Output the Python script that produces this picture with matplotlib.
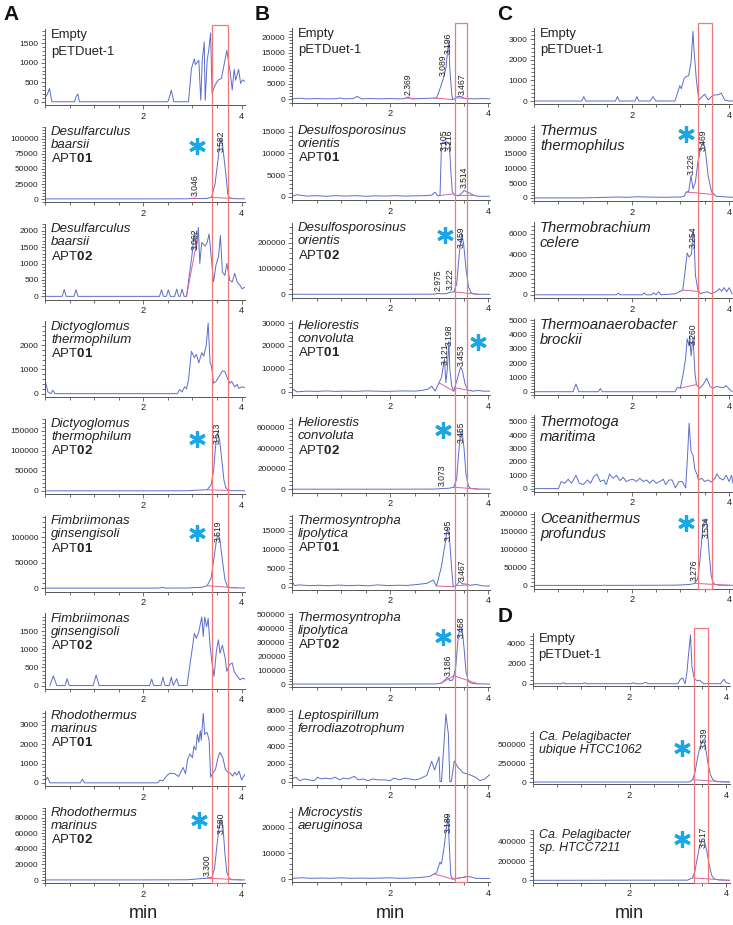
import numpy as np
import matplotlib
matplotlib.use('Agg')
import matplotlib.pyplot as plt
import matplotlib.transforms as mtransforms
from matplotlib.ticker import MultipleLocator, AutoMinorLocator, FixedLocator, FormatStrFormatter
from matplotlib.patches import Rectangle

plt.rcParams['font.family'] = ['Liberation Sans', 'DejaVu Sans']
plt.rcParams['mathtext.fontset'] = 'custom'
plt.rcParams['mathtext.rm'] = 'Liberation Sans'
plt.rcParams['mathtext.it'] = 'Liberation Sans:italic'
plt.rcParams['mathtext.bf'] = 'Liberation Sans:bold'

# ---------------- chromatogram traces (retention time in min, intensity) -------------
# column A
a1_t = [0.0, 0.05, 0.09, 0.14, 0.6, 0.64, 0.67, 0.7, 2.5, 2.54, 2.57, 2.62, 2.92, 2.98, 3.04, 3.06,
        3.13, 3.17, 3.20, 3.24, 3.26, 3.30, 3.33, 3.37, 3.40, 3.45, 3.52, 3.59, 3.70, 3.77, 3.81,
        3.85, 3.88, 3.94, 3.98, 4.02, 4.07]
a1_y = [100, 200, 340, 0, 0, 150, 200, 0, 0, 150, 300, 0, 0, 850, 1100, 950,
        1060, 40, 1060, 1530, 40, 1060, 1300, 1760, 210, 400, 550, 600, 1310, 750, 300,
        830, 550, 830, 470, 560, 520]
a2_t = [0.0, 1.0, 2.0, 2.9, 3.0, 3.046, 3.1, 3.2, 3.3, 3.39, 3.46, 3.51, 3.56, 3.58, 3.61, 3.68,
        3.72, 3.76, 3.85, 4.07]
a2_y = [300, 300, 300, 400, 1000, 1600, 800, 700, 1200, 3000, 25000, 58000, 95000, 100000, 92000,
        42000, 8000, 1500, 600, 400]
a3_t = [0.0, 0.35, 0.39, 0.43, 0.59, 0.63, 0.67, 2.33, 2.37, 2.41, 2.47, 2.51, 2.55, 2.64, 2.68,
        2.72, 2.75, 2.79, 2.83, 2.88, 2.99, 3.04, 3.08, 3.12, 3.15, 3.19, 3.26, 3.30, 3.34, 3.38,
        3.43, 3.48, 3.53, 3.57, 3.61, 3.66, 3.70, 3.76, 3.81, 3.86, 3.91, 3.97, 4.01, 4.07]
a3_y = [0, 0, 210, 0, 0, 200, 0, 0, 200, 0, 0, 200, 0, 0, 220, 0, 0, 220, 0, 0, 1240, 1950, 1430,
        2100, 1000, 1640, 1530, 1640, 1900, 1240, 440, 960, 1200, 1850, 740, 640, 1000, 490, 440,
        700, 440, 330, 230, 280]
a4_t = [0.0, 0.06, 0.12, 0.16, 0.2, 2.69, 2.74, 2.79, 2.84, 2.88, 2.92, 2.98, 3.04, 3.08, 3.13,
        3.19, 3.23, 3.28, 3.32, 3.36, 3.39, 3.43, 3.48, 3.54, 3.61, 3.66, 3.70, 3.76, 3.80, 3.86,
        3.91, 3.95, 4.0, 4.07]
a4_y = [560, 70, 0, 140, 0, 0, 170, 70, 280, 200, 560, 1750, 1480, 1620, 1270, 1690, 1550, 1970,
        2910, 1270, 1130, 430, 500, 700, 940, 910, 700, 430, 500, 280, 380, 210, 280, 250]
a5_t = [0.0, 1.0, 2.0, 2.9, 3.1, 3.2, 3.3, 3.38, 3.43, 3.47, 3.51, 3.55, 3.60, 3.64, 3.68, 3.73,
        3.8, 4.07]
a5_y = [300, 300, 300, 500, 2000, 2500, 3000, 15000, 50000, 110000, 145000, 130000, 75000, 28000,
        8000, 2000, 800, 500]
a6_t = [0.0, 1.0, 2.3, 2.4, 2.45, 2.9, 3.2, 3.3, 3.38, 3.44, 3.49, 3.52, 3.56, 3.61, 3.66, 3.71,
        3.77, 4.07]
a6_y = [300, 300, 300, 1500, 300, 500, 2000, 5000, 20000, 60000, 95000, 105000, 95000, 55000,
        18000, 4000, 1000, 500]
a7_t = [0.1, 0.17, 0.24, 0.41, 0.45, 0.49, 0.98, 1.04, 1.1, 2.13, 2.17, 2.21, 2.36, 2.40, 2.44,
        2.53, 2.57, 2.61, 2.68, 2.72, 2.89, 3.04, 3.08, 3.13, 3.19, 3.22, 3.25, 3.29, 3.32, 3.36,
        3.40, 3.44, 3.49, 3.53, 3.56, 3.61, 3.66, 3.70, 3.75, 3.81, 3.85, 3.89, 3.97, 4.02, 4.07]
a7_y = [0, 266, 0, 0, 190, 0, 0, 290, 0, 0, 180, 0, 0, 230, 0, 0, 230, 0, 190, 0, 0, 1440, 1300,
        1480, 1890, 1350, 1890, 1620, 1850, 1080, 620, 250, 980, 1260, 890, 1110, 800, 390, 570,
        620, 390, 300, 160, 200, 180]
a8_t = [0.0, 0.05, 0.1, 0.72, 0.76, 0.8, 2.3, 2.34, 2.4, 2.47, 2.54, 2.64, 2.72, 2.81, 2.86, 2.9,
        2.95, 3.0, 3.03, 3.07, 3.1, 3.13, 3.16, 3.18, 3.22, 3.25, 3.28, 3.3, 3.34, 3.37, 3.40,
        3.47, 3.52, 3.56, 3.62, 3.67, 3.72, 3.77, 3.82, 3.86, 3.9, 3.95, 4.0, 4.07]
a8_y = [100, 290, 0, 0, 200, 0, 0, 150, 100, 350, 500, 470, 330, 800, 470, 1200, 1500, 1300, 1900,
        1700, 2500, 2100, 2700, 2200, 3600, 2500, 2600, 2600, 2200, 300, 450, 700, 1300, 1580,
        1300, 700, 550, 500, 350, 550, 400, 600, 150, 450]
a9_t = [0.0, 1.0, 2.0, 2.9, 3.0, 3.2, 3.3, 3.4, 3.45, 3.5, 3.55, 3.58, 3.62, 3.66, 3.70, 3.75,
        3.8, 4.07]
a9_y = [300, 300, 300, 500, 1000, 2000, 2500, 4000, 15000, 45000, 72000, 77000, 70000, 35000,
        10000, 2000, 500, 300]

# column B
b1_t = [0.0, 0.15, 0.3, 0.5, 0.7, 0.9, 0.98, 1.06, 1.25, 1.33, 1.42, 1.6, 1.8, 2.0, 2.2, 2.3,
        2.37, 2.44, 2.6, 2.8, 2.95, 3.02, 3.09, 3.14, 3.19, 3.20, 3.22, 3.26, 3.28, 3.33, 3.38,
        3.46, 3.52, 3.7, 3.9, 4.04]
b1_y = [200, 400, 200, 300, 200, 250, 500, 200, 300, 1000, 200, 300, 200, 300, 200, 300, 850,
        200, 300, 400, 500, 3500, 6800, 10000, 18000, 18500, 10000, 1500, 0, 300, 1000, 900, 300,
        200, 300, 200]
b2_t = [0.0, 0.1, 0.3, 0.5, 0.7, 0.9, 1.1, 1.3, 1.5, 1.7, 1.9, 2.1, 2.3, 2.5, 2.7, 2.85, 2.92,
        2.97, 3.02, 3.05, 3.07, 3.105, 3.14, 3.17, 3.21, 3.24, 3.27, 3.32, 3.4, 3.45, 3.51, 3.56,
        3.62, 3.7, 3.8, 4.04]
b2_y = [200, 500, 200, 300, 150, 300, 200, 300, 150, 250, 200, 300, 200, 250, 300, 400, 1100,
        300, 300, 12000, 12500, 12700, 12000, 12400, 12500, 6000, 1200, 400, 300, 700, 1500, 1200,
        900, 400, 150, 150]
b3_t = [0.0, 1.0, 2.0, 2.8, 2.9, 2.975, 3.05, 3.15, 3.222, 3.3, 3.36, 3.41, 3.46, 3.5, 3.55,
        3.6, 3.65, 3.7, 3.8, 4.04]
b3_y = [500, 500, 500, 800, 1000, 4000, 2000, 3000, 8000, 10000, 40000, 150000, 238000, 200000,
        100000, 30000, 8000, 2000, 500, 500]
b4_t = [0.0, 0.03, 0.1, 0.3, 0.5, 0.7, 0.9, 1.1, 1.3, 1.5, 1.7, 1.9, 2.1, 2.3, 2.5, 2.65, 2.78,
        2.85, 2.92, 3.05, 3.11, 3.14, 3.17, 3.20, 3.22, 3.26, 3.30, 3.37, 3.44, 3.48, 3.53, 3.59,
        3.69, 3.79, 3.9, 4.04]
b4_y = [500, 1000, 0, 300, 200, 400, 200, 300, 200, 400, 300, 200, 300, 400, 300, 600, 1200, 2500,
        300, 6200, 14400, 4000, 10000, 22000, 10000, 2500, 300, 5500, 10800, 9000, 3500, 700, 300,
        600, 300, 300]
b5_t = [0.0, 1.0, 2.0, 2.9, 3.0, 3.073, 3.2, 3.3, 3.36, 3.40, 3.44, 3.47, 3.51, 3.55, 3.6, 3.65,
        3.75, 4.04]
b5_y = [1000, 1000, 1000, 2000, 5000, 8000, 10000, 20000, 100000, 350000, 560000, 570000, 400000,
        150000, 30000, 8000, 3000, 1000]
b6_t = [0.0, 0.05, 0.15, 0.35, 0.55, 0.75, 0.95, 1.15, 1.35, 1.55, 1.75, 1.95, 2.15, 2.35, 2.55,
        2.75, 2.88, 2.95, 3.05, 3.12, 3.17, 3.21, 3.26, 3.29, 3.35, 3.42, 3.47, 3.56, 3.62, 3.76,
        3.9, 4.04]
b6_y = [1500, 300, 500, 300, 400, 250, 450, 300, 400, 250, 500, 300, 400, 350, 600, 900, 1800, 200,
        5500, 11200, 15600, 13500, 4500, 0, 300, 1500, 800, 700, 400, 600, 200, 200]
b7_t = [0.0, 1.0, 2.0, 2.95, 3.05, 3.12, 3.17, 3.22, 3.28, 3.34, 3.39, 3.43, 3.47, 3.51, 3.55,
        3.6, 3.66, 3.75, 4.04]
b7_y = [1000, 1000, 1000, 2000, 8000, 30000, 50000, 25000, 30000, 120000, 330000, 410000, 400000,
        260000, 90000, 20000, 6000, 3000, 1000]
b8_t = [0.0, 0.08, 0.16, 0.25, 0.35, 0.45, 0.52, 0.6, 0.68, 0.78, 0.88, 0.97, 1.05, 1.15, 1.27,
        1.35, 1.45, 1.55, 1.65, 1.75, 1.9, 2.0, 2.08, 2.2, 2.3, 2.4, 2.5, 2.6, 2.75, 2.85, 2.91,
        3.0, 3.02, 3.05, 3.14, 3.19, 3.22, 3.25, 3.31, 3.39, 3.49, 3.56, 3.66, 3.76, 3.83, 3.93,
        4.04]
b8_y = [300, 500, 100, 300, 200, 100, 500, 300, 400, 300, 500, 200, 400, 300, 600, 200, 300, 100,
        300, 200, 200, 100, 400, 200, 400, 300, 200, 300, 700, 2300, 1300, 2800, 0, 0, 7600, 5400,
        0, 0, 2300, 1600, 1000, 900, 700, 450, 100, 300, 800]
b9_t = [0.0, 0.2, 0.4, 0.6, 0.8, 1.0, 1.2, 1.4, 1.6, 1.8, 2.0, 2.2, 2.4, 2.6, 2.8, 2.95, 3.02,
        3.05, 3.10, 3.16, 3.18, 3.20, 3.24, 3.28, 3.36, 3.5, 3.58, 3.65, 3.75, 4.04]
b9_y = [300, 500, 300, 400, 300, 500, 300, 400, 300, 400, 500, 300, 400, 600, 1000, 2500, 6600,
        5800, 12000, 21000, 25000, 17000, 1500, 0, 300, 700, 1100, 800, 300, 200]

# column C
c1_t = [0.0, 0.98, 1.02, 1.06, 1.67, 1.71, 1.75, 2.07, 2.11, 2.15, 2.38, 2.44, 2.50, 2.89, 2.99,
        3.02, 3.08, 3.12, 3.17, 3.22, 3.26, 3.28, 3.33, 3.38, 3.44, 3.50, 3.57, 3.63, 3.70, 3.77,
        3.84, 3.91, 4.0, 4.08]
c1_y = [0, 0, 215, 0, 0, 215, 0, 0, 215, 0, 0, 215, 0, 0, 750, 600, 1100, 1200, 1230, 1900, 3400,
        2500, 1000, 50, 200, 330, 50, 200, 300, 300, 380, 50, 0, 0]
c2_t = [0.0, 1.0, 1.5, 1.7, 1.9, 2.1, 2.3, 2.5, 2.7, 2.9, 3.0, 3.08, 3.12, 3.17, 3.22, 3.26, 3.31,
        3.36, 3.42, 3.47, 3.51, 3.57, 3.64, 3.74, 3.88, 4.08]
c2_y = [0, 0, 200, 300, 200, 400, 300, 250, 200, 300, 300, 560, 2000, 2000, 7500, 3000, 5500,
        12000, 17000, 19000, 16500, 7500, 2000, 500, 400, 200]
c3_t = [0.0, 1.69, 1.73, 1.77, 2.22, 2.26, 2.30, 2.41, 2.45, 2.50, 2.56, 2.60, 2.90, 3.05, 3.09,
        3.14, 3.18, 3.23, 3.26, 3.28, 3.31, 3.36, 3.41, 3.46, 3.56, 3.63, 3.73, 3.80, 3.85, 3.90,
        3.95, 4.0, 4.06]
c3_y = [0, 0, 160, 0, 0, 200, 0, 0, 200, 0, 300, 0, 100, 470, 2000, 4100, 3700, 4000, 6250, 5600,
        1900, 470, 100, 200, 300, 100, 300, 600, 350, 700, 300, 700, 100]
c4_t = [0.0, 0.8, 0.86, 0.92, 1.32, 1.36, 1.40, 2.89, 2.94, 3.0, 3.06, 3.11, 3.14, 3.18, 3.19,
        3.22, 3.26, 3.30, 3.33, 3.39, 3.47, 3.54, 3.61, 3.67, 3.74, 3.81, 3.88, 3.94, 4.0, 4.06]
c4_y = [0, 0, 540, 0, 0, 220, 0, 0, 300, 250, 1280, 2370, 3700, 3200, 3900, 2500, 3800, 1300, 500,
        230, 500, 950, 370, 230, 370, 320, 280, 420, 200, 0]
c5_t = [0.0, 0.50, 0.56, 0.63, 0.70, 0.77, 0.86, 0.93, 1.01, 1.10, 1.16, 1.22, 1.29, 1.36, 1.43,
        1.48, 1.55, 1.62, 1.69, 1.76, 1.83, 1.89, 1.96, 2.03, 2.10, 2.17, 2.24, 2.31, 2.37, 2.44,
        2.51, 2.58, 2.65, 2.70, 2.77, 2.83, 2.90, 2.97, 3.04, 3.11, 3.15, 3.18, 3.22, 3.26, 3.30,
        3.34, 3.37, 3.44, 3.50, 3.57, 3.64, 3.71, 3.75, 3.81, 3.88, 3.94, 4.0, 4.05, 4.08]
c5_y = [0, 0, 530, 400, 700, 400, 1000, 400, 300, 650, 400, 870, 1090, 530, 650, 300, 1090, 770,
        1000, 600, 850, 530, 650, 700, 530, 770, 530, 650, 400, 650, 400, 530, 700, 300, 650, 650,
        50, 530, 530, 50, 2600, 4900, 2800, 2500, 1400, 1100, 650, 770, 530, 650, 480, 770, 1100,
        770, 650, 1000, 530, 1000, 400]
c6_t = [0.0, 1.0, 1.4, 1.45, 1.5, 2.0, 2.5, 2.9, 3.0, 3.2, 3.3, 3.36, 3.41, 3.46, 3.51, 3.55, 3.59,
        3.63, 3.67, 3.72, 3.8, 4.08]
c6_y = [300, 300, 300, 1000, 300, 500, 700, 1000, 1500, 3000, 6000, 20000, 80000, 160000, 185000,
        165000, 90000, 30000, 8000, 2500, 1000, 500]

# column D
d1_t = [0.0, 0.59, 0.63, 0.67, 1.03, 1.07, 1.11, 2.04, 2.08, 2.12, 2.27, 2.33, 2.39, 3.0, 3.05,
        3.10, 3.15, 3.19, 3.22, 3.26, 3.29, 3.34, 3.40, 3.45, 3.53, 3.88, 3.95, 4.0, 4.07]
d1_y = [0, 0, 100, 0, 0, 100, 0, 0, 100, 0, 0, 150, 0, 0, 450, 550, 0, 1300, 3000, 4900, 1700, 500,
        300, 350, 0, 0, 450, 100, 0]
d2_t = [0.0, 3.2, 3.25, 3.3, 3.35, 3.4, 3.45, 3.5, 3.54, 3.58, 3.62, 3.67, 3.72, 3.8, 3.9, 4.07]
d2_y = [0, 0, 5000, 30000, 120000, 300000, 450000, 530000, 530000, 420000, 250000, 100000, 30000,
        5000, 1000, 0]
d3_t = [0.0, 3.2, 3.3, 3.35, 3.4, 3.45, 3.5, 3.55, 3.6, 3.65, 3.7, 3.75, 3.85, 4.07]
d3_y = [0, 2000, 25000, 90000, 230000, 360000, 410000, 400000, 300000, 150000, 50000, 15000, 3000, 0]

# ---------------- sample names, construct, axis tops, tick steps, peak labels ----------------
names_a = ["Empty\npETDuet-1", "Desulfarculus\nbaarsii", "Desulfarculus\nbaarsii",
           "Dictyoglomus\nthermophilum", "Dictyoglomus\nthermophilum", "Fimbriimonas\nginsengisoli",
           "Fimbriimonas\nginsengisoli", "Rhodothermus\nmarinus", "Rhodothermus\nmarinus"]
apt_a = [None, "01", "02", "01", "02", "01", "02", "01", "02"]
ymax_a = [1850, 120200, 2200, 2980, 180000, 141700, 1990, 3740, 92300]
ystep_a = [500, 25000, 500, 1000, 50000, 50000, 500, 1000, 20000]
peaks_a = [[], ["3.046", "3.582"], ["3.062"], [], ["3.513"], ["3.519"], [], [], ["3.300", "3.580"]]
base_a = [[], [(3.0, 3.1), (3.38, 3.8)], [(2.88, 3.1)], [], [(3.3, 3.8)], [(3.3, 3.9)], [], [],
          [(3.3, 4.0)]]

names_b = ["Empty\npETDuet-1", "Desulfosporosinus\norientis", "Desulfosporosinus\norientis",
           "Heliorestis\nconvoluta", "Heliorestis\nconvoluta", "Thermosyntropha\nlipolytica",
           "Thermosyntropha\nlipolytica", "Leptospirillum\nferrodiazotrophum",
           "Microcystis\naeruginosa"]
apt_b = [None, "01", "02", "01", "02", "01", "02", None, None]
ymax_b = [22900, 16400, 277000, 31100, 696000, 19100, 508000, 8020, 27650]
ystep_b = [5000, 5000, 100000, 10000, 200000, 5000, 100000, 2000, 10000]
peaks_b = [["2.369", "3.089", "3.196", "3.467"], ["3.105", "3.216", "3.514"],
           ["2.975", "3.222", "3.459"], ["3.121", "3.198", "3.453"], ["3.073", "3.455"],
           ["3.195", "3.467"], ["3.186", "3.458"], [], ["3.189"]]
base_b = [[(2.32, 2.5), (2.9, 3.28), (3.35, 3.6)], [(3.0, 3.3), (3.4, 3.7)], [(3.3, 3.8)],
          [(3.0, 3.3), (3.32, 3.6)], [(3.3, 3.8)], [(2.95, 3.29), (3.35, 3.6)],
          [(3.05, 3.3), (3.3, 3.8)], [], [(2.9, 3.28), (3.28, 3.6)]]

names_c = ["Empty\npETDuet-1", "Thermus\nthermophilus", "Thermobrachium\ncelere",
           "Thermoanaerobacter\nbrockii", "Thermotoga\nmaritima", "Oceanithermus\nprofundus"]
apt_c = [None] * 6
ymax_c = [3570, 24700, 7190, 5120, 5490, 203500]
ystep_c = [1000, 5000, 2000, 1000, 1000, 50000]
peaks_c = [[], ["3.226", "3.469"], ["3.254"], ["3.260"], [], ["3.276", "3.534"]]
base_c = [[], [(3.13, 3.70)], [(3.05, 3.38)], [(3.0, 3.33)], [], [(3.3, 4.0)]]

names_d = ["Empty\npETDuet-1", "Ca. Pelagibacter\nubique HTCC1062", "Ca. Pelagibacter\nsp. HTCC7211"]
apt_d = [None] * 3
ymax_d = [5100, 668000, 528500]
ystep_d = [2000, 250000, 200000]
peaks_d = [[], ["3.539"], ["3.517"]]
base_d = [[], [(3.3, 4.07)], [(3.3, 4.07)]]

# asterisk marks (retention time, height as fraction of the panel) on active samples
star_a = [None, (3.10, 0.74), None, None, (3.10, 0.73), (3.10, 0.77), None, None, (3.13, 0.84)]
star_b = [None, None, (3.12, 0.84), (3.80, 0.71), (3.08, 0.84), None, (3.08, 0.68), None, None]
star_c = [None, (3.11, 0.88), None, None, None, (3.11, 0.86)]
star_d = [None, (3.08, 0.69), (3.08, 0.82)]

# retention-time window marked in red for each column
window_a = (3.40, 3.72)
window_b = (3.33, 3.565)
window_c = (3.355, 3.64)
window_d = (3.33, 3.62)

traces_a = [(a1_t, a1_y), (a2_t, a2_y), (a3_t, a3_y), (a4_t, a4_y), (a5_t, a5_y), (a6_t, a6_y),
            (a7_t, a7_y), (a8_t, a8_y), (a9_t, a9_y)]
traces_b = [(b1_t, b1_y), (b2_t, b2_y), (b3_t, b3_y), (b4_t, b4_y), (b5_t, b5_y), (b6_t, b6_y),
            (b7_t, b7_y), (b8_t, b8_y), (b9_t, b9_y)]
traces_c = [(c1_t, c1_y), (c2_t, c2_y), (c3_t, c3_y), (c4_t, c4_y), (c5_t, c5_y), (c6_t, c6_y)]
traces_d = [(d1_t, d1_y), (d2_t, d2_y), (d3_t, d3_y)]

TRACE = '#5a6dcc'
PINK = '#e0609a'
RED = '#f07878'
STAR = '#1ba6e6'
INK = '#222222'
AXC = '#555555'

W, H = 733, 925
fig = plt.figure(figsize=(W / 100, H / 100), dpi=100)


def add_ax(left, bottom, width, height):
    return fig.add_axes([left / W, 1 - bottom / H, width / W, height / H])


def draw_panel(ax, t, y, name, apt, ymax, ystep, peaks, bases, star, xmax, fs):
    ax.plot(t, y, color=TRACE, lw=0.7)
    for x0, x1 in bases:
        ax.plot([x0, x1], np.interp([x0, x1], t, y), color=PINK, lw=0.7)
    ylo = -0.045 * ymax
    ax.set_xlim(0, xmax)
    ax.set_ylim(ylo, ymax)
    for s in ['top', 'right']:
        ax.spines[s].set_visible(False)
    for s in ['left', 'bottom']:
        ax.spines[s].set_color(AXC)
        ax.spines[s].set_linewidth(0.7)
    ax.xaxis.set_major_locator(FixedLocator([2, 4]))
    ax.xaxis.set_minor_locator(MultipleLocator(0.5))
    ax.yaxis.set_major_locator(MultipleLocator(ystep))
    ax.yaxis.set_minor_locator(AutoMinorLocator(5))
    ax.yaxis.set_major_formatter(FormatStrFormatter('%d'))
    ax.tick_params(which='both', direction='out', color=AXC, width=0.6, labelsize=6,
                   labelcolor=INK, pad=1.5)
    ax.tick_params(axis='x', labelsize=6.6)
    ax.tick_params(which='major', length=3.2)
    ax.tick_params(which='minor', length=2)
    ax.patch.set_visible(False)

    # sample label
    if apt is None and name.startswith('Empty'):
        ax.text(0.03, 1.0, name, transform=ax.transAxes, va='top', ha='left', fontsize=9.4,
                color=INK, linespacing=1.45)
    else:
        txt = name if apt is None else name + "\n" + r"$\mathrm{APT}\mathbf{%s}$" % apt
        ax.text(0.03, 1.01, txt, transform=ax.transAxes, va='top', ha='left', fontsize=fs,
                color=INK, fontstyle='italic', linespacing=1.12)

    trans = mtransforms.blended_transform_factory(ax.transData, ax.transAxes)
    for s in peaks:
        x = float(s)
        frac = (np.interp(x, t, y) - ylo) / (ymax - ylo)
        ax.text(x, min(frac + 0.03, 0.66), s, transform=trans, rotation=90, ha='center',
                va='bottom', fontsize=6.2, color=INK)
    if star is not None:
        ax.plot([star[0]], [star[1]], transform=trans, marker=(6, 2, 0), ms=12, mew=2.3,
                color=STAR, clip_on=False)


columns = [
    # traces, names, apt, ymax, ystep, peaks, bases, stars, window, left, width, xmax, bottom0, pitch, height, fontsize
    (traces_a, names_a, apt_a, ymax_a, ystep_a, peaks_a, base_a, star_a, window_a,
     45, 200, 4.07, 105, 97.3, 75.5, 9.5),
    (traces_b, names_b, apt_b, ymax_b, ystep_b, peaks_b, base_b, star_b, window_b,
     292, 198, 4.04, 102.7, 97.45, 74.5, 9.5),
    (traces_c, names_c, apt_c, ymax_c, ystep_c, peaks_c, base_c, star_c, window_c,
     534, 199, 4.08, 104.3, 96.9, 76.5, 10.6),
    (traces_d, names_d, apt_d, ymax_d, ystep_d, peaks_d, base_d, star_d, window_d,
     532.7, 197, 4.07, 686, 98.3, 53, 8.9),
]

for (traces, names, apts, ymaxs, ysteps, peaks, bases, stars, window,
     left, width, xmax, bottom0, pitch, height, fs) in columns:
    for i, (t, y) in enumerate(traces):
        bottom = bottom0 + i * pitch
        ax = add_ax(left, bottom, width, height)
        draw_panel(ax, t, y, names[i], apts[i], ymaxs[i], ysteps[i], peaks[i], bases[i],
                   stars[i], xmax, fs)
    # red window box spanning the whole column
    x0 = left + window[0] / xmax * width
    x1 = left + window[1] / xmax * width
    top = bottom0 - height - 5
    bot = bottom0 + (len(traces) - 1) * pitch
    fig.add_artist(Rectangle((x0 / W, 1 - bot / H), (x1 - x0) / W, (bot - top) / H,
                             transform=fig.transFigure, fill=False, ec=RED, lw=0.9, zorder=10))

# panel letters
for letter, px, py in [('A', 3, 15), ('B', 255, 15), ('C', 497, 15), ('D', 498, 617)]:
    fig.text(px / W, 1 - py / H, letter, fontsize=15, fontweight='bold', va='center', ha='left',
             color='#111111')

# axis titles
for px in [143, 390, 629]:
    fig.text(px / W, 1 - 918 / H, 'min', fontsize=13, ha='center', va='baseline', color=INK)

fig.savefig('out.png', dpi=100)
